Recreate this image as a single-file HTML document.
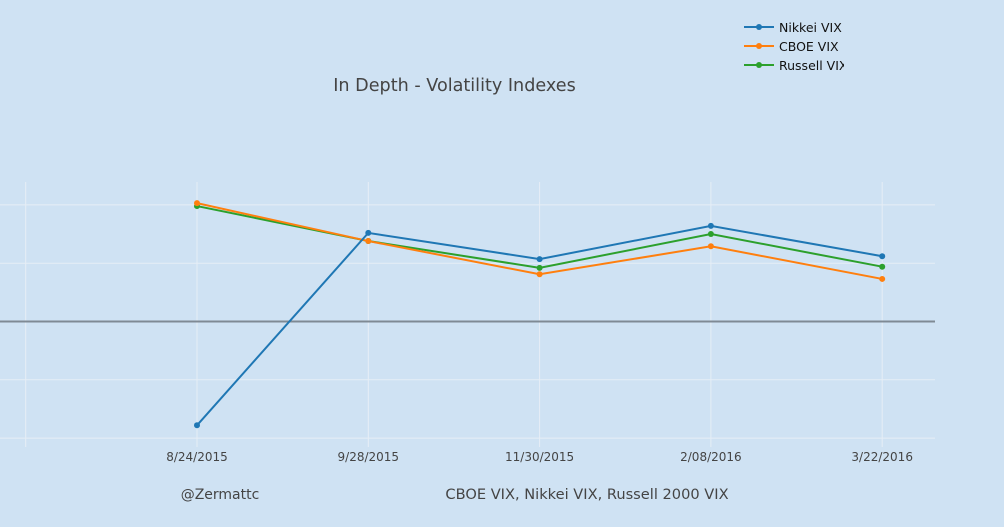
<!DOCTYPE html>
<html><head><meta charset="utf-8"><style>
body{margin:0;background:#cfe2f3;}
svg{display:block;font-family:"DejaVu Sans","Liberation Sans",sans-serif;}
</style></head><body>
<svg id="chart" width="1004" height="527" viewBox="0 0 1004 527">
<defs><clipPath id="lgclip"><rect x="740" y="10" width="104" height="70"/></clipPath></defs>
<rect width="1004" height="527" fill="#cfe2f3"/>
<g id="grid"></g><g id="series"></g><g id="xticks"></g>
<text x="454.5" y="91" text-anchor="middle" font-size="17.6" fill="#444">In Depth - Volatility Indexes</text>
<text x="220" y="499" text-anchor="middle" font-size="14" fill="#444">@Zermattc</text>
<text x="587" y="499" text-anchor="middle" font-size="14.6" fill="#444">CBOE VIX, Nikkei VIX, Russell 2000 VIX</text>
<g id="legend" clip-path="url(#lgclip)"></g>
</svg>
<script>
const categories=["8/24/2015","9/28/2015","11/30/2015","2/08/2016","3/22/2016"];
const nikkei=[-17.8,15.2,10.7,16.4,11.2];
const cboe=[20.3,13.8,8.1,12.9,7.3];
const russell=[19.8,13.8,9.2,15.0,9.4];
const yTicks=[-20,-10,0,10,20];
const seriesNames=["Nikkei VIX","CBOE VIX","Russell VIX"];
const NS="http://www.w3.org/2000/svg";
function mk(t,a,p){const e=document.createElementNS(NS,t);for(const k in a)e.setAttribute(k,a[k]);p.appendChild(e);return e;}
const xs=i=>197+171.3*i;
const ys=v=>321.5-v*5.83;
const grid=document.getElementById('grid');
for(let i=-1;i<categories.length;i++){const l=mk('line',{x1:xs(i),x2:xs(i),y1:182,y2:447,stroke:'#e6eef6','stroke-width':1},grid);

}
yTicks.forEach(v=>{const l=mk('line',{x1:0,x2:935,y1:ys(v),y2:ys(v),stroke:v===0?'#7f8a94':'#e6eef6','stroke-width':v===0?2:1},grid);

});
const xt=document.getElementById('xticks');
categories.forEach((c,i)=>{const t=mk('text',{x:xs(i),y:461,'text-anchor':'middle','font-size':12,fill:'#444'},xt);t.textContent=c;

});
const colors=["#1f77b4","#ff7f0e","#2ca02c"];
const data=[nikkei,cboe,russell];
const sg=document.getElementById('series');
[2,1,0].forEach(s=>{const g=mk('g',{},sg);


mk('polyline',{points:data[s].map((v,i)=>xs(i)+','+ys(v)).join(' '),fill:'none',stroke:colors[s],'stroke-width':2},g);
data[s].forEach((v,i)=>{const c=mk('circle',{cx:xs(i),cy:ys(v),r:3,fill:colors[s]},g);

});});
const lg=document.getElementById('legend');
seriesNames.forEach((n,i)=>{const y=27+19*i;const g=mk('g',{},lg);


mk('line',{x1:744,x2:774,y1:y,y2:y,stroke:colors[i],'stroke-width':2},g);
mk('circle',{cx:759,cy:y,r:3,fill:colors[i]},g);
const t=mk('text',{x:779,y:y+5,'font-size':12.5,fill:'#111'},g);t.textContent=n;});
</script>
</body></html>
